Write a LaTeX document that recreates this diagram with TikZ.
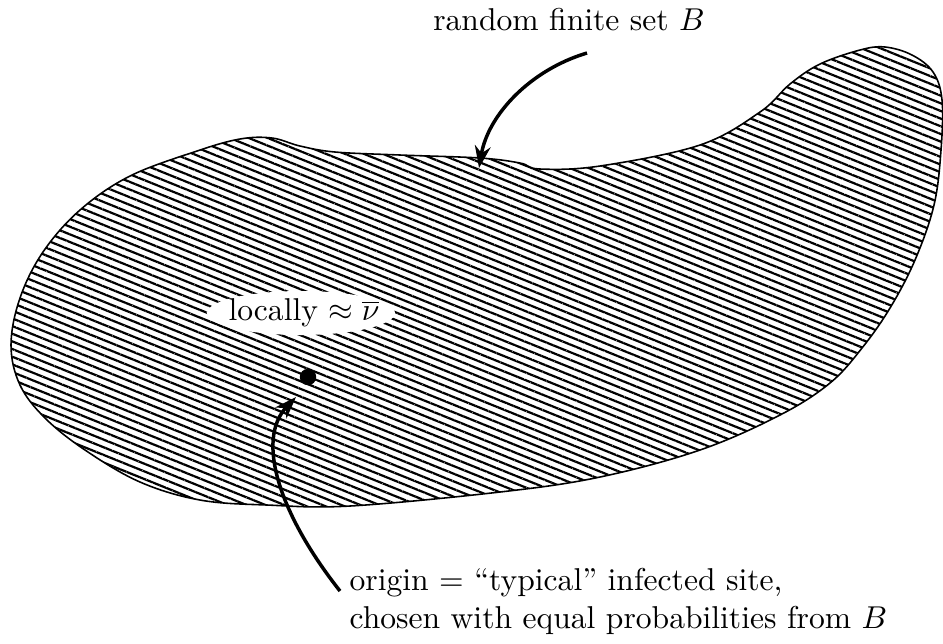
\documentclass[tikz,border=0pt]{standalone}
\usetikzlibrary{patterns.meta,arrows.meta}
\begin{document}
\begin{tikzpicture}[x=0.3166pt,y=-0.3166pt,
  blob/.style={draw=black,line width=0.5pt,pattern={Lines[angle=-22,distance=2.25pt,line width=0.7pt]}},
  pointer/.style={line width=1.1pt,-{Stealth[length=7pt,width=5pt]}},
  lbl/.style={inner sep=0pt,font=\normalsize}]
\useasboundingbox (0,0) rectangle (943,643);
\draw[blob] plot[smooth cycle,tension=0.6] coordinates {
 (11,345) (20,298) (43,252) (80,210) (130,176) (197,151) (240,139)
 (272,138) (300,146) (335,152) (400,155) (480,158) (520,163) (540,169)
 (600,166) (700,145) (760,112) (790,84) (820,64) (860,50) (885,47) (912,55)
 (933,72) (942,100) (941,150) (934,205) (915,260) (890,308) (862,348)
 (830,383) (780,415) (700,450) (600,477) (500,492) (350,506) (267,505)
 (200,500) (140,482) (85,450) (45,418) (20,385)};
\fill[white] (301,313) ellipse (94 and 22);
\node[lbl] (loc) at (304,313) {locally $\approx \overline{\nu}$};
\fill (308,377) circle (2.6pt) coordinate (dot);
\node[lbl] (top) at (569,20) {random finite set $B$};
\node[lbl,align=left,anchor=west] (bot) at (349,601) {origin $=$ ``typical'' infected site,\\chosen with equal probabilities from $B$};
\coordinate (tstart) at (587,53);
\coordinate (ttip) at (479,168);
\coordinate (bstart) at (340,591);
\coordinate (btip) at (296,397);
\draw[pointer] (tstart) .. controls (530,70) and (488,115) .. (ttip);
\draw[pointer] (bstart) .. controls (280,515) and (255,440) .. (btip);
\end{tikzpicture}
\end{document}
